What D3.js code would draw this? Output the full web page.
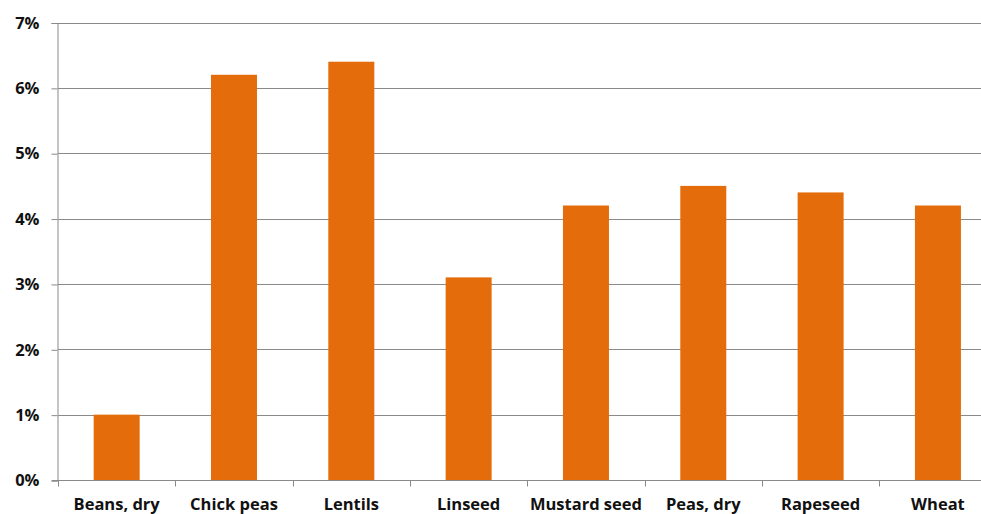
<!DOCTYPE html>
<html>
<head>
<meta charset="utf-8">
<script src="https://cdn.jsdelivr.net/npm/d3@7"></script>
<style>
  html, body { margin: 0; padding: 0; background: #fff; overflow: hidden; }
  svg { display: block; }
  text { font-family: "Open Sans", Lato, sans-serif; font-weight: bold; fill: #111; }
</style>
</head>
<body>
<svg id="chart" width="981" height="514"></svg>
<script>
// Crop categories and their percentage values
const categories = ["Beans, dry", "Chick peas", "Lentils", "Linseed", "Mustard seed", "Peas, dry", "Rapeseed", "Wheat"];
const values = [1.0, 6.2, 6.4, 3.1, 4.2, 4.5, 4.4, 4.2];
const yTicks = [0, 1, 2, 3, 4, 5, 6, 7];

const svg = d3.select("#chart");
const plotLeft = 58, plotTop = 22.5, plotBottom = 480, plotRight = 996.6;
const gridColor = "#8a8a8a";

const x = d3.scaleBand().domain(categories).range([plotLeft, plotRight]).paddingInner(0.608).paddingOuter(0.304);
const y = d3.scaleLinear().domain([0, 7]).range([plotBottom, plotTop]);

// Horizontal gridlines
svg.append("g")
  .selectAll("line")
  .data(yTicks)
  .join("line")
  .attr("x1", plotLeft).attr("x2", 981)
  .attr("y1", d => Math.round(y(d)) + 0.5).attr("y2", d => Math.round(y(d)) + 0.5)
  .attr("stroke", gridColor).attr("stroke-width", 1);

// Bars
svg.append("g")
  .selectAll("rect")
  .data(values)
  .join("rect")
  .attr("x", (d, i) => x(categories[i]))
  .attr("width", x.bandwidth())
  .attr("y", d => y(d))
  .attr("height", d => y(0) - y(d))
  .attr("fill", "#E46C0A");

// Y axis
const yAxis = d3.axisLeft(y).tickValues(yTicks).tickFormat(d => d + "%").tickSize(6).tickPadding(12);
const yg = svg.append("g").attr("transform", `translate(${plotLeft - 0.5},0.5)`).call(yAxis);
yg.select(".domain").attr("stroke", gridColor);
yg.selectAll(".tick line").attr("stroke", gridColor);
yg.selectAll(".tick text")
  .attr("font-size", 16.5)
  .attr("font-family", "'Open Sans', sans-serif")
  .attr("font-weight", "bold")
  .attr("fill", "#111");

// X axis with tick marks at category boundaries
const xg = svg.append("g").attr("transform", `translate(0,${Math.round(plotBottom) + 0.5})`);
xg.append("line").attr("x1", plotLeft - 6).attr("x2", 981).attr("stroke", gridColor);
const step = x.step();
xg.selectAll("line.tk")
  .data(d3.range(categories.length + 1))
  .join("line")
  .attr("class", "tk")
  .attr("x1", i => Math.round(plotLeft + i * step) + 0.5)
  .attr("x2", i => Math.round(plotLeft + i * step) + 0.5)
  .attr("y1", 0).attr("y2", 6)
  .attr("stroke", gridColor);
xg.selectAll("text")
  .data(categories)
  .join("text")
  .attr("x", d => x(d) + x.bandwidth() / 2)
  .attr("y", 29)
  .attr("text-anchor", "middle")
  .attr("font-size", 16.5)
  .text(d => d);
</script>
</body>
</html>
